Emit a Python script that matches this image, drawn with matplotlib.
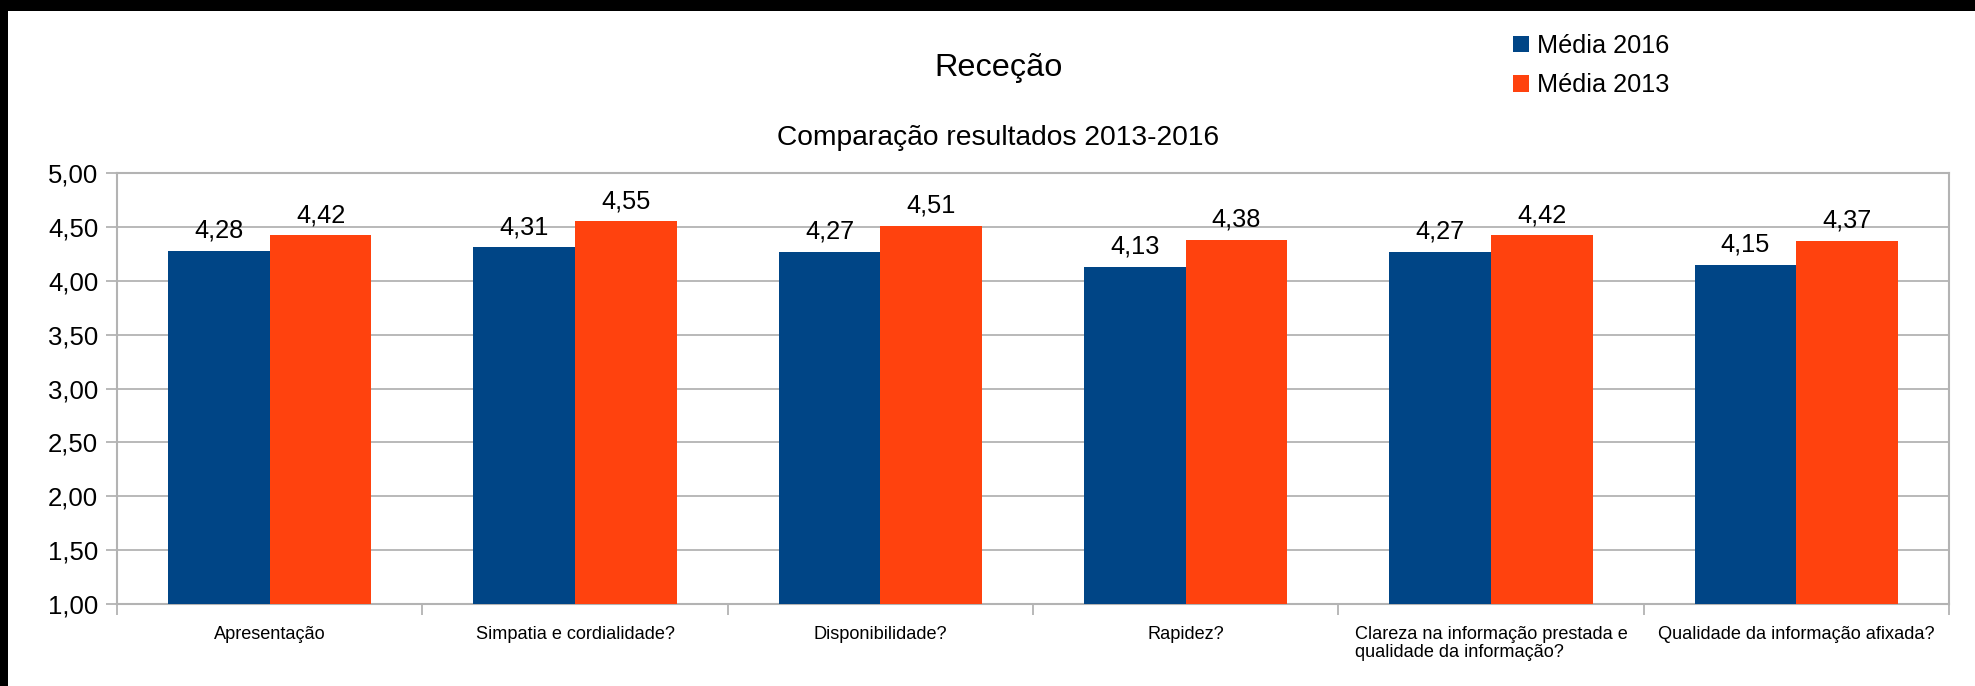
import matplotlib
matplotlib.use("Agg")
import matplotlib.pyplot as plt
from matplotlib.patches import Rectangle, Patch
from matplotlib.ticker import FuncFormatter, FixedLocator
import numpy as np

plt.rcParams['font.family'] = ['Liberation Sans', 'DejaVu Sans']

# dados
categorias = [
    "Apresentação",
    "Simpatia e cordialidade?",
    "Disponibilidade?",
    "Rapidez?",
    "Clareza na informação prestada e\nqualidade da informação?",
    "Qualidade da informação afixada?",
]
media_2016 = [4.28, 4.31, 4.27, 4.13, 4.27, 4.15]
media_2013 = [4.42, 4.55, 4.51, 4.38, 4.42, 4.37]
series = ["Média 2016", "Média 2013"]
cores = ["#004586", "#ff420e"]
y_ticks = [1.0, 1.5, 2.0, 2.5, 3.0, 3.5, 4.0, 4.5, 5.0]

W, H = 1975, 686
fig = plt.figure(figsize=(W / 100, H / 100), dpi=100)
fig.patch.set_facecolor("white")

# moldura preta (topo e esquerda)
fig.patches.append(Rectangle((0, 1 - 11 / H), 1, 11 / H, transform=fig.transFigure,
                             facecolor="black", edgecolor="none", zorder=0))
fig.patches.append(Rectangle((0, 0), 8 / W, 1, transform=fig.transFigure,
                             facecolor="black", edgecolor="none", zorder=0))

left, right, top, bottom = 117, 1949, 173, 604
ax = fig.add_axes([left / W, 1 - bottom / H, (right - left) / W, (bottom - top) / H])

cinza = "#b3b3b3"
x = np.arange(len(categorias))
larg = 1 / 3

for i, (vals, cor, nome) in enumerate(zip([media_2016, media_2013], cores, series)):
    pos = x + (i - 0.5) * larg
    ax.bar(pos, vals, width=larg, color=cor, label=nome, zorder=3)
    for px, v in zip(pos, vals):
        ax.annotate(f"{v:.2f}".replace(".", ","), (px, v), xytext=(0, 9.4),
                    textcoords="offset points", ha="center", va="baseline",
                    fontsize=18.3, zorder=4)

ax.set_xlim(-0.5, len(categorias) - 0.5)
ax.set_ylim(1, 5)
ax.set_yticks(y_ticks)
ax.yaxis.set_major_formatter(FuncFormatter(lambda v, p: f"{v:.2f}".replace(".", ",")))
ax.grid(axis="y", color=cinza, linewidth=1.3, zorder=0)
ax.set_axisbelow(True)

ax.set_xticks(x)
ax.set_xticklabels(categorias, fontsize=13.1, linespacing=1.15)
for lbl in ax.get_xticklabels():
    lbl.set_multialignment("left")
ax.xaxis.set_minor_locator(FixedLocator(np.arange(-0.5, len(categorias), 1.0)))
ax.tick_params(axis="x", which="major", length=0, pad=15.5)
ax.tick_params(axis="x", which="minor", length=8, color=cinza, width=1.3)
ax.tick_params(axis="y", length=8, color=cinza, width=1.3, pad=5.5, labelsize=18.5)

for s in ax.spines.values():
    s.set_color(cinza)
    s.set_linewidth(1.5)

fig.text(999 / W, 1 - 76 / H, "Receção", ha="center", va="baseline", fontsize=23.4)
fig.text(998 / W, 1 - 145 / H, "Comparação resultados 2013-2016", ha="center",
         va="baseline", fontsize=20.3)

handles = [Patch(facecolor=c, edgecolor="none") for c in cores]
fig.legend(handles, series, loc="upper left", bbox_to_anchor=(1513 / W, 1 - 34 / H),
           frameon=False, fontsize=18.2, handlelength=0.64, handleheight=0.64,
           handletextpad=0.32, labelspacing=0.6, borderpad=0, borderaxespad=0)

fig.savefig("out.png", dpi=100, facecolor="white")
